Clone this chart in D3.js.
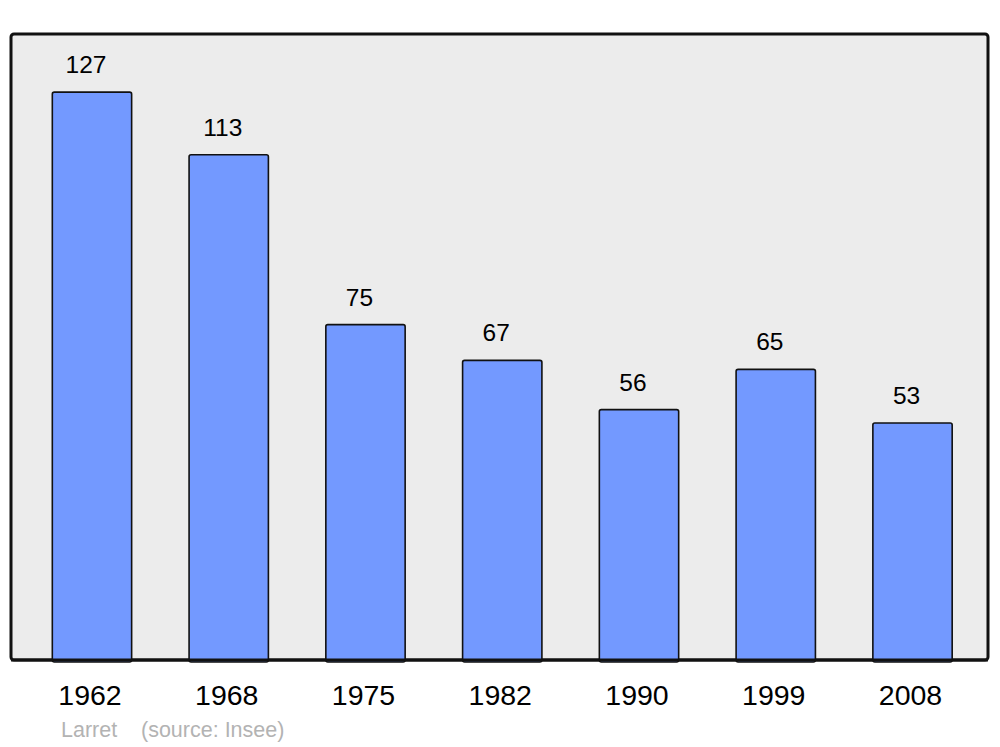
<!DOCTYPE html>
<html><head><meta charset="utf-8">
<script src="https://cdn.jsdelivr.net/npm/d3@7"></script>
<style>body{margin:0;background:#fff}svg{display:block}</style>
</head><body>
<svg id="c" width="1000" height="747"></svg>
<script>
const years = ["1962","1968","1975","1982","1990","1999","2008"];
const population = [127,113,75,67,56,65,53];
const commune = "Larret";
const source = "(source: Insee)";

const svg = d3.select("#c");
const font = "'Liberation Sans', Arial, sans-serif";
const frame = {x0: 11, y0: 34, x1: 988, y1: 660};

svg.append("rect").attr("x", frame.x0).attr("y", frame.y0)
  .attr("width", frame.x1 - frame.x0).attr("height", frame.y1 - frame.y0)
  .attr("rx", 3).attr("fill", "#ececec").attr("stroke", "#111").attr("stroke-width", 3);

const x = d3.scaleBand().domain(years).range([23.6, 980.9]).paddingInner(0.42).paddingOuter(0.21);
const y = d3.scaleLinear().domain([0, 140]).range([frame.y1, frame.y0]);

const g = svg.append("g");
g.selectAll("rect.bar").data(years).join("rect").attr("class", "bar")
  .attr("x", d => x(d)).attr("width", x.bandwidth())
  .attr("y", (d, i) => y(population[i])).attr("height", (d, i) => y(0) - y(population[i]) + 2)
  .attr("rx", 2).attr("fill", "#7399ff").attr("stroke", "#111").attr("stroke-width", 1.6);

svg.append("line").attr("x1", frame.x0).attr("x2", frame.x1).attr("y1", frame.y1).attr("y2", frame.y1)
  .attr("stroke", "#111").attr("stroke-width", 3);

g.selectAll("text.val").data(years).join("text").attr("class", "val")
  .attr("x", d => x(d) + x.bandwidth() / 2 - 6)
  .attr("y", (d, i) => y(population[i]) - 19)
  .attr("text-anchor", "middle").attr("font-family", font).attr("font-size", 24.5)
  .attr("fill", "#000").text((d, i) => population[i]);

const xAxis = d3.axisBottom(x).tickSize(0).tickPadding(0);
const ax = svg.append("g").attr("transform", `translate(-2,${frame.y1 + 45})`).call(xAxis);
ax.select(".domain").remove();
ax.selectAll("text").attr("font-family", font).attr("font-size", 28.5).attr("fill", "#000").attr("dy", 0);

svg.append("text").attr("x", 61).attr("y", 737).attr("font-family", font).attr("font-size", 21.5)
  .attr("fill", "#b3b3b3").text(commune);
svg.append("text").attr("x", 141).attr("y", 737).attr("font-family", font).attr("font-size", 21.5)
  .attr("fill", "#b3b3b3").text(source);
</script>
</body></html>
